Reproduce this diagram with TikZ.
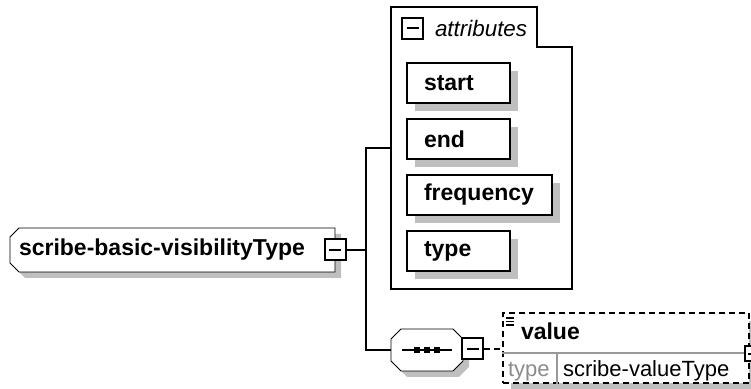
\documentclass[tikz,border=0pt]{standalone}
\usepackage{fontspec}
\setmainfont{Liberation Sans}
\usepackage{xcolor}
\usepackage{tikz}
\usetikzlibrary{shadows, positioning, calc, backgrounds}

\begin{document}
\begin{tikzpicture}[
    x=0.5pt, y=-0.5pt,
    line width=1pt,
    bold/.style = {font=\fontsize{11.5pt}{13pt}\selectfont\bfseries},
    plain/.style = {font=\fontsize{11pt}{13pt}\selectfont},
    grouplabel/.style = {font=\fontsize{11.2pt}{13pt}\selectfont\itshape, inner sep=0pt},
    shadowed/.style = {drop shadow={shadow xshift=#1, shadow yshift=-#1, fill=black!25, opacity=1}},
    typebox/.style = {rectangle, minimum width=161.5pt, minimum height=21pt, inner xsep=4pt, inner ysep=0pt, text width=153.5pt, align=left, bold},
    seqbox/.style = {rectangle, minimum width=35pt, minimum height=20pt, inner sep=0pt},
    outline/.style = {draw, fill=white, shadowed=3pt},
    minusbox/.style = {rectangle, draw, fill=white, minimum size=10.5pt, inner sep=0pt,
        path picture={\draw ([xshift=-3pt]path picture bounding box.center) -- ([xshift=3pt]path picture bounding box.center);}},
    plusbox/.style = {rectangle, draw, fill=white, minimum size=7.5pt, inner sep=0pt,
        path picture={\draw ([xshift=-2.2pt]path picture bounding box.center) -- ([xshift=2.2pt]path picture bounding box.center)
            ([yshift=-2.2pt]path picture bounding box.center) -- ([yshift=2.2pt]path picture bounding box.center);}},
    attr/.style = {rectangle, draw, fill=white, text width=#1, align=left, minimum height=20pt, inner xsep=8.5pt, inner ysep=0pt, bold, shadowed=4pt},
    attr/.default = 34.5pt,
    valuenode/.style = {rectangle, draw, dash pattern=on 3pt off 2pt, fill=white, minimum width=123pt, minimum height=35pt, inner sep=0pt, shadowed=4pt},
    link/.style = {line width=1pt},
    dashlink/.style = {line width=1pt, dash pattern=on 3pt off 2pt},
    rowline/.style = {line width=0.8pt, draw=black!40}
]
    \useasboundingbox (0,0) rectangle (751,389);

    % Group of attributes
    \node (attrs) [minimum width=89.5pt, minimum height=140pt, inner sep=0pt] at (481.5,148) {};
    \draw[fill=white] (attrs.north west) -- ++(146,0) -- ++(0,40) -| (attrs.south east) -- (attrs.south west) -- cycle;
    \node (attrminus) [minusbox] at (412.5,28.5) {};
    \node (attrlabel) [grouplabel, right=5pt of attrminus] {attributes};

    % Nodes
    \node (main) [typebox, anchor=west] at (10,250) {scribe-basic-visibilityType};
    \node (mainbox) [minusbox] at (main.east) {};
    \node (start) [attr, anchor=west] at (406,83) {start};
    \node (end) [attr, below=7pt of start.south west, anchor=north west] {end};
    \node (frequency) [attr=55.5pt, below=7pt of end.south west, anchor=north west] {frequency};
    \node (type) [attr, below=7pt of frequency.south west, anchor=north west] {type};
    \node (seq) [seqbox] at (427,350) {};
    \draw[line width=0.8pt] ([xshift=-12.5pt]seq.center) -- ([xshift=12.5pt]seq.center);
    \foreach \dx in {-5pt,0pt,5pt}
        \fill ([xshift=\dx]seq.center) +(-1.6pt,-1.6pt) rectangle +(1.6pt,1.6pt);
    \node (seqminus) [minusbox, anchor=west] at ([xshift=-1pt, yshift=0.5pt]seq.east) {};
    \node (value) [valuenode, anchor=north west] at (502,312) {};
    \node (valuename) [bold, anchor=base west, inner sep=0pt] at ([xshift=9pt, yshift=-14pt]value.north west) {value};
    \node (valuekey) [plain, text=black!45, anchor=base west, inner sep=0pt] at ([xshift=2.5pt, yshift=3.5pt]value.south west) {type};
    \node (valuetype) [plain, anchor=base west, inner sep=0pt] at ([xshift=30pt, yshift=3.5pt]value.south west) {scribe-valueType};
    \draw[rowline] ([yshift=-20.5pt]value.north west) -- ([yshift=-20.5pt]value.north east);
    \draw[rowline] ([xshift=27.5pt, yshift=-20.5pt]value.north west) -- ([xshift=27.5pt]value.south west);
    \foreach \dy in {6,9.5,13}
        \draw[line width=0.6pt] ($(value.north west)+(4,\dy)$) -- ++(8,0);
    \node (valueplus) [plusbox] at ([xshift=1pt, yshift=-21pt]value.north east) {};

    % Outlines with cut corners
    \begin{scope}[on background layer]
        \draw[outline] ([xshift=4.5pt]main.north west) -- (main.north east) -- (main.south east)
            -- ([xshift=4.5pt]main.south west) -- ([yshift=4.5pt]main.south west)
            -- ([yshift=-4.5pt]main.north west) -- cycle;
        \draw[outline] ([xshift=5pt]seq.north west) -- ([xshift=-5pt]seq.north east)
            -- ([yshift=-5pt]seq.north east) -- ([yshift=5pt]seq.south east)
            -- ([xshift=-5pt]seq.south east) -- ([xshift=5pt]seq.south west)
            -- ([yshift=5pt]seq.south west) -- ([yshift=-5pt]seq.north west) -- cycle;
    \end{scope}

    % Connectors
    \coordinate (fork) at ([xshift=9.5pt]mainbox.east);
    \draw[link] (mainbox.east) -- (fork);
    \draw[link] (attrs.west) -| (fork) |- (seq.west);
    \draw[dashlink] (seqminus.east) -- (seqminus.east -| value.west);

\end{tikzpicture}
\end{document}
